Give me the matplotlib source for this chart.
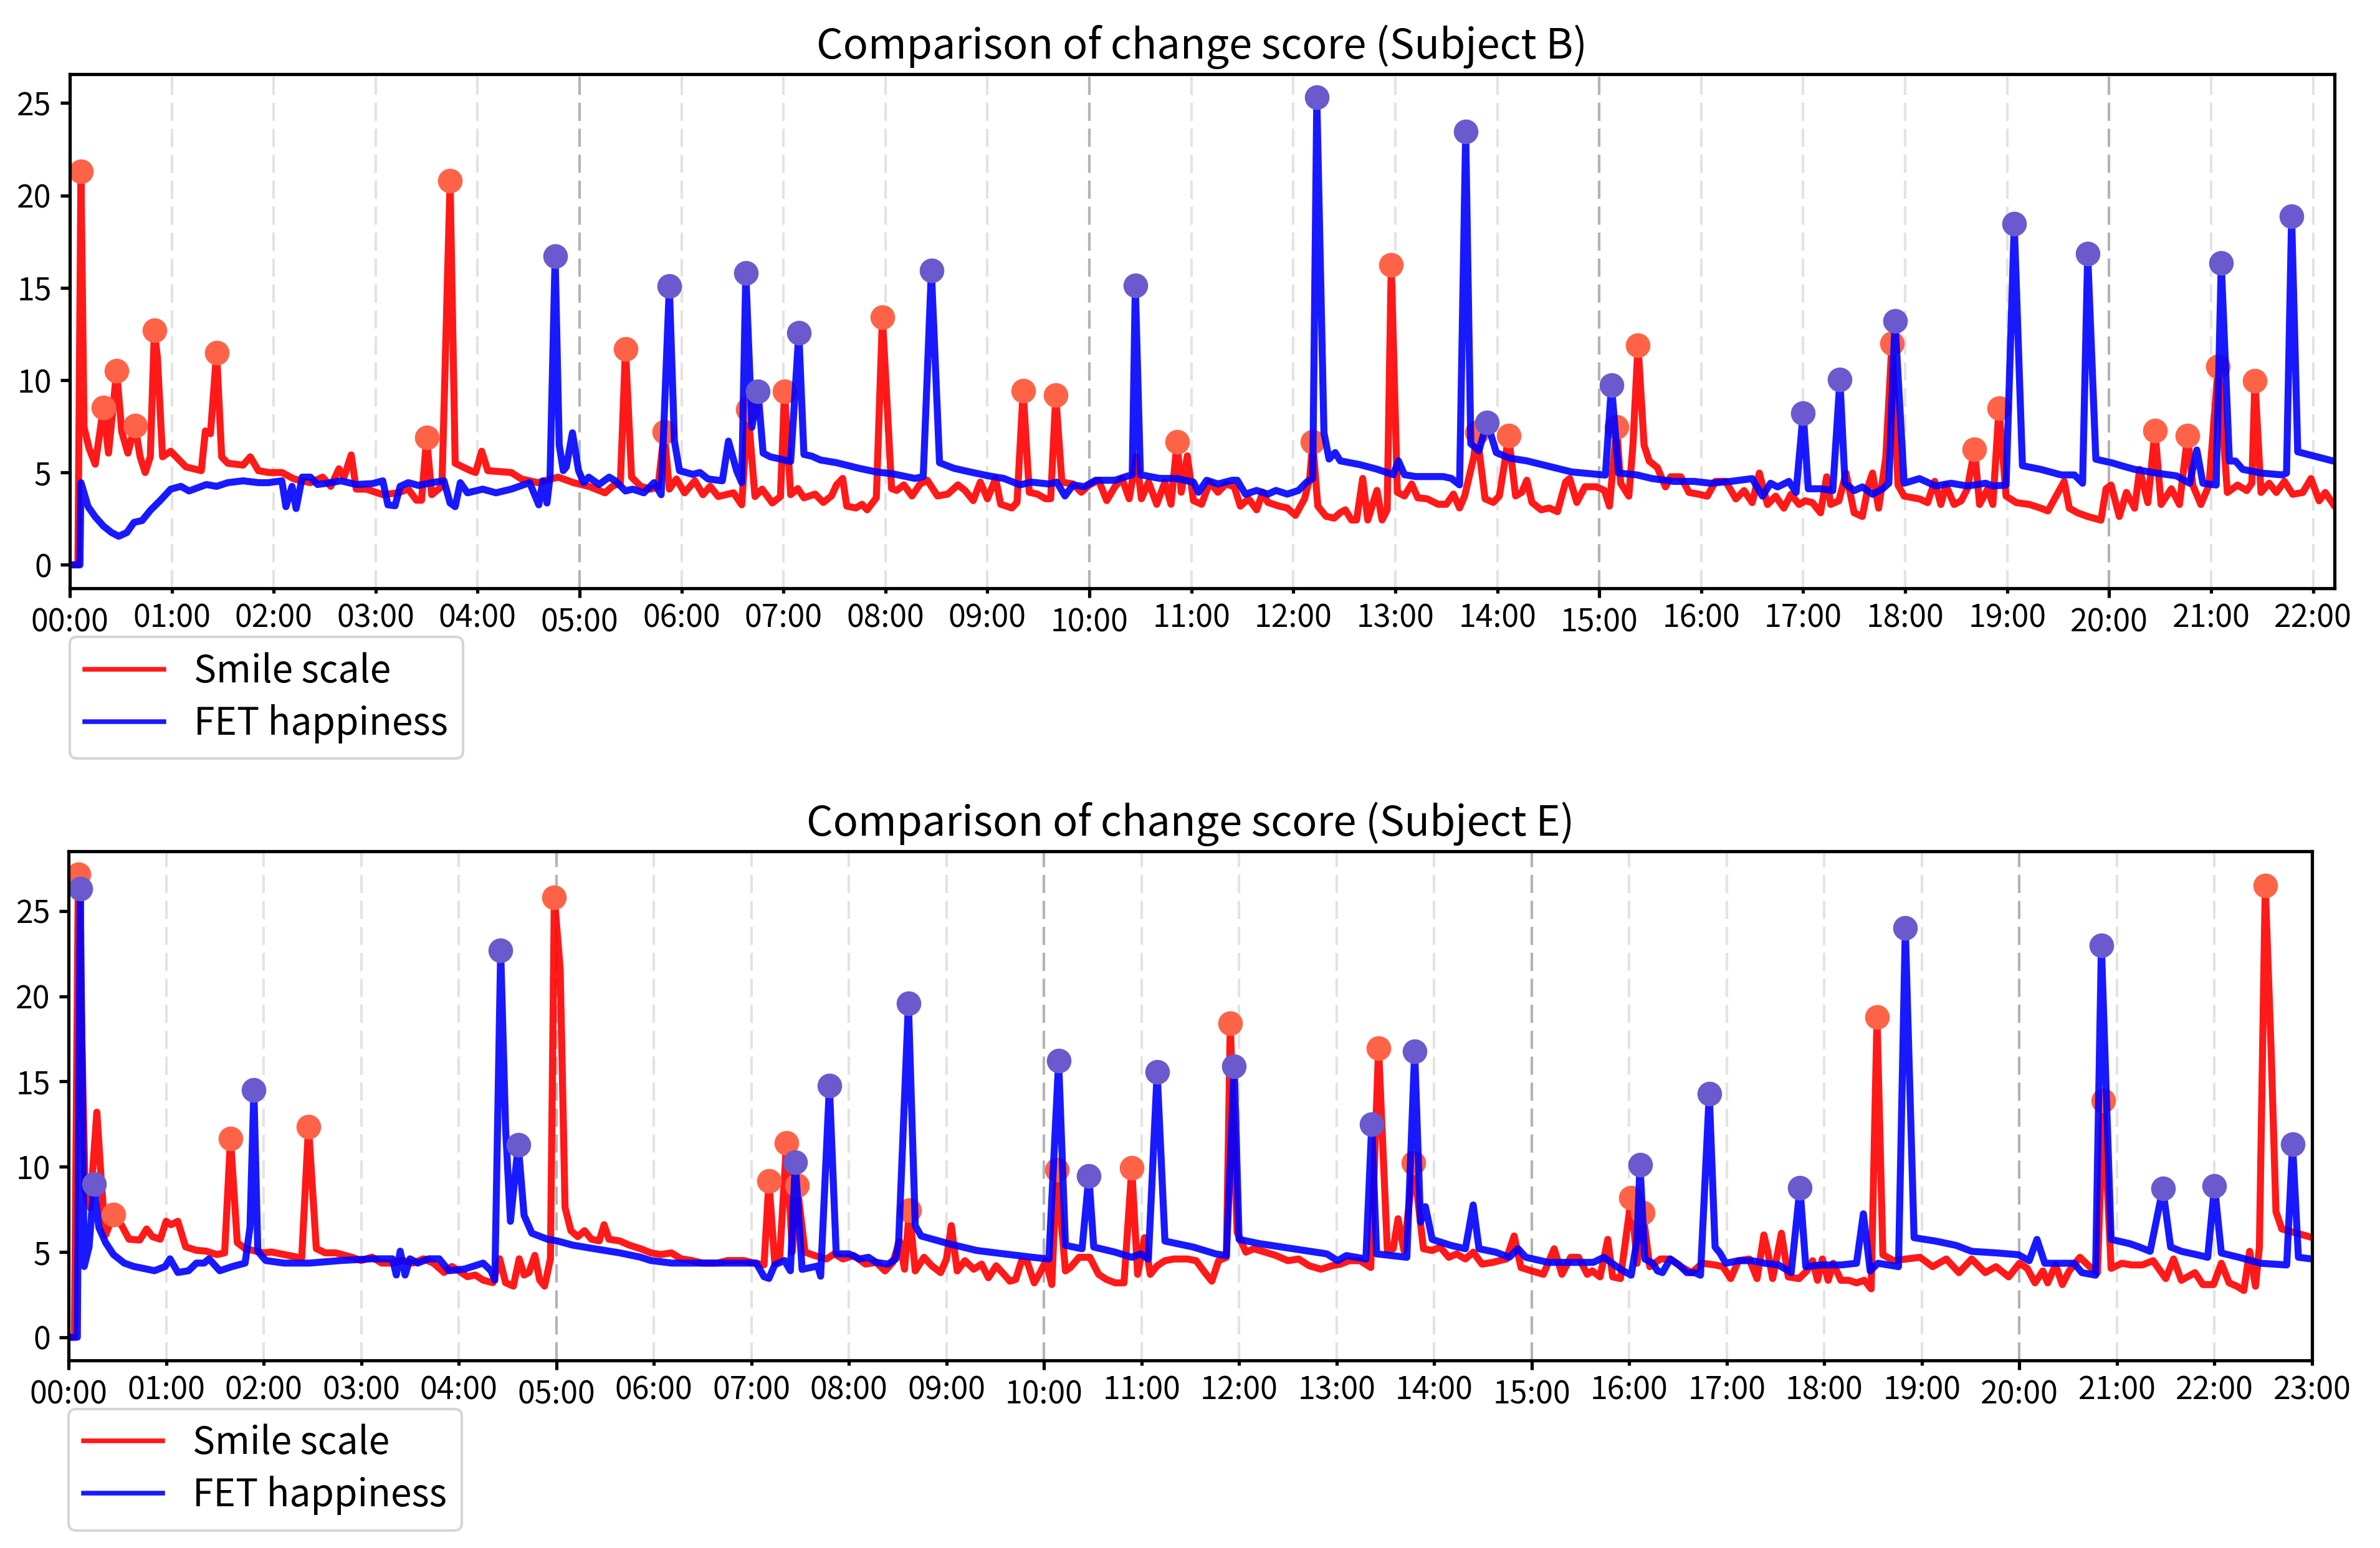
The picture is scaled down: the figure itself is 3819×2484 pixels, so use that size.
import matplotlib
matplotlib.use('Agg')
import matplotlib.pyplot as plt
from matplotlib.ticker import MultipleLocator, FuncFormatter

plt.rcParams['font.family'] = ['Noto Sans CJK JP', 'DejaVu Sans']

# (hour, score)
b_smile = [(0, 0), (0.08, 0), (0.11, 21.3), (0.14, 7.45), (0.19, 6.3), (0.25, 5.45), (0.33, 8.5), (0.38, 6.05),
           (0.46, 10.5), (0.51, 7.2), (0.57, 6.05), (0.64, 7.55), (0.69, 5.85), (0.74, 5.0), (0.79, 5.85),
           (0.83, 12.7), (0.86, 11.2), (0.91, 5.85), (0.99, 6.15), (1.14, 5.3), (1.29, 5.1), (1.33, 7.25),
           (1.38, 7.1), (1.44, 11.5), (1.49, 5.85), (1.55, 5.5), (1.70, 5.4), (1.77, 5.85), (1.85, 5.1),
           (1.95, 5.0), (2.08, 5.0), (2.20, 4.65), (2.36, 4.45), (2.48, 4.75), (2.56, 4.25), (2.64, 5.2),
           (2.69, 4.75), (2.76, 5.95), (2.81, 4.1), (2.91, 4.1), (3.07, 3.8), (3.22, 3.9), (3.32, 4.1),
           (3.40, 3.5), (3.45, 3.5), (3.50, 6.9), (3.55, 3.8), (3.65, 4.25), (3.73, 20.8), (3.78, 5.5),
           (3.93, 5.1), (3.98, 5.0), (4.04, 6.15), (4.10, 5.1), (4.33, 5.0), (4.43, 4.65), (4.59, 4.45),
           (4.79, 4.75), (4.94, 4.45), (5.09, 4.25), (5.25, 3.9), (5.32, 4.25), (5.40, 4.45), (5.45, 11.7),
           (5.51, 4.75), (5.60, 4.25), (5.70, 4.1), (5.77, 4.25), (5.83, 7.2), (5.88, 4.1), (5.95, 4.65),
           (6.03, 3.9), (6.13, 4.55), (6.21, 3.8), (6.28, 4.25), (6.36, 3.7), (6.51, 3.9), (6.59, 3.25),
           (6.65, 8.4), (6.72, 3.7), (6.79, 4.1), (6.89, 3.35), (6.97, 3.7), (7.01, 9.4), (7.07, 3.8),
           (7.14, 4.13), (7.20, 3.63), (7.31, 3.83), (7.39, 3.38), (7.47, 3.73), (7.52, 4.33), (7.58, 4.68),
           (7.62, 3.18), (7.71, 3.08), (7.77, 3.28), (7.82, 2.98), (7.91, 3.63), (7.97, 13.42), (8.06, 4.13),
           (8.11, 4.03), (8.18, 4.33), (8.26, 3.73), (8.34, 4.38), (8.41, 4.58), (8.51, 3.73), (8.61, 3.83),
           (8.71, 4.33), (8.78, 4.03), (8.86, 3.48), (8.93, 4.48), (9.00, 3.58), (9.08, 4.68), (9.13, 3.28),
           (9.24, 3.08), (9.29, 3.38), (9.35, 9.43), (9.41, 3.93), (9.49, 3.83), (9.57, 3.58), (9.62, 3.58),
           (9.67, 9.18), (9.73, 4.48), (9.84, 4.38), (9.92, 3.93), (10.00, 4.33), (10.09, 4.58), (10.17, 3.48),
           (10.25, 4.23), (10.32, 4.68), (10.39, 3.58), (10.46, 5.85), (10.51, 3.58), (10.58, 4.48),
           (10.66, 3.28), (10.74, 4.48), (10.80, 3.28), (10.86, 6.66), (10.90, 3.93), (10.96, 5.9),
           (11.02, 3.48), (11.10, 3.28), (11.18, 4.48), (11.26, 3.93), (11.34, 4.38), (11.42, 4.23),
           (11.48, 3.18), (11.56, 3.58), (11.64, 2.98), (11.70, 3.93), (11.75, 3.38), (11.86, 3.18),
           (11.94, 3.08), (12.02, 2.68), (12.11, 3.58), (12.16, 4.68), (12.19, 6.66), (12.24, 3.18),
           (12.32, 2.63), (12.40, 2.53), (12.46, 2.83), (12.51, 2.98), (12.57, 2.43), (12.62, 2.43),
           (12.68, 4.68), (12.73, 2.43), (12.82, 4.03), (12.87, 2.43), (12.92, 2.98), (12.96, 16.25),
           (13.02, 3.93), (13.09, 3.73), (13.16, 4.38), (13.22, 3.63), (13.31, 3.58), (13.42, 3.28),
           (13.50, 3.28), (13.57, 3.83), (13.63, 3.08), (13.68, 3.73), (13.77, 5.85), (13.80, 7.16),
           (13.88, 3.58), (13.96, 3.38), (14.02, 3.73), (14.07, 5.45), (14.11, 7.0), (14.18, 3.73),
           (14.24, 3.93), (14.29, 4.58), (14.34, 3.38), (14.43, 2.98), (14.51, 3.08), (14.59, 2.88),
           (14.67, 4.48), (14.71, 4.68), (14.78, 3.38), (14.86, 4.23), (14.97, 4.23), (15.05, 4.03),
           (15.10, 3.18), (15.17, 7.46), (15.21, 4.42), (15.29, 3.72), (15.33, 6.47), (15.38, 11.9),
           (15.44, 6.47), (15.49, 5.62), (15.57, 5.27), (15.65, 4.22), (15.70, 4.77), (15.80, 4.77),
           (15.88, 3.92), (15.98, 3.82), (16.06, 3.72), (16.14, 4.52), (16.24, 4.52), (16.34, 3.57),
           (16.42, 4.02), (16.50, 3.37), (16.57, 4.97), (16.65, 3.27), (16.73, 3.72), (16.81, 3.07),
           (16.88, 3.82), (16.96, 3.27), (17.02, 3.47), (17.09, 3.37), (17.17, 2.82), (17.23, 4.77),
           (17.27, 3.27), (17.35, 3.47), (17.42, 4.97), (17.50, 2.82), (17.58, 2.62), (17.64, 4.32),
           (17.68, 4.97), (17.74, 3.07), (17.81, 5.82), (17.87, 12.0), (17.93, 4.32), (17.99, 3.72),
           (18.14, 3.57), (18.22, 3.37), (18.29, 4.52), (18.35, 3.27), (18.40, 4.32), (18.48, 3.27),
           (18.55, 3.47), (18.61, 4.12), (18.68, 6.25), (18.73, 3.27), (18.81, 4.12), (18.86, 3.27),
           (18.92, 8.47), (18.99, 3.72), (19.09, 3.37), (19.22, 3.27), (19.33, 3.07), (19.40, 2.92),
           (19.48, 3.72), (19.56, 4.52), (19.61, 3.07), (19.69, 2.82), (19.79, 2.62), (19.92, 2.42),
           (19.97, 4.12), (20.02, 4.32), (20.10, 2.62), (20.17, 3.92), (20.25, 3.07), (20.30, 5.17),
           (20.38, 3.37), (20.45, 7.26), (20.51, 3.27), (20.61, 4.12), (20.69, 3.27), (20.77, 7.0),
           (20.82, 4.32), (20.90, 3.27), (20.98, 4.32), (21.07, 10.74), (21.16, 3.92), (21.26, 4.32),
           (21.35, 4.02), (21.40, 4.42), (21.43, 9.98), (21.49, 3.92), (21.57, 4.42), (21.64, 3.92),
           (21.72, 4.52), (21.80, 3.82), (21.90, 3.92), (21.98, 4.67), (22.06, 3.47), (22.12, 3.92),
           (22.20, 3.27)]

b_fet = [(0, 0), (0.10, 0), (0.11, 4.45), (0.18, 3.15), (0.25, 2.6), (0.33, 2.1), (0.41, 1.75), (0.48, 1.55),
         (0.56, 1.75), (0.63, 2.3), (0.71, 2.4), (0.79, 2.95), (0.89, 3.5), (0.99, 4.1), (1.09, 4.25),
         (1.17, 4.0), (1.34, 4.35), (1.44, 4.25), (1.55, 4.45), (1.70, 4.55), (1.85, 4.45), (1.95, 4.45),
         (2.08, 4.55), (2.12, 3.15), (2.18, 4.25), (2.22, 3.05), (2.28, 4.75), (2.36, 4.75), (2.43, 4.35),
         (2.56, 4.45), (2.66, 4.55), (2.81, 4.35), (2.97, 4.4), (3.07, 4.55), (3.12, 3.25), (3.19, 3.2),
         (3.24, 4.25), (3.32, 4.45), (3.42, 4.3), (3.55, 4.45), (3.67, 4.55), (3.73, 3.35), (3.78, 3.15),
         (3.83, 4.45), (3.90, 3.9), (4.05, 4.1), (4.18, 3.9), (4.33, 4.1), (4.51, 4.45), (4.60, 3.25),
         (4.64, 4.55), (4.68, 3.35), (4.71, 4.75), (4.76, 16.7), (4.80, 6.5), (4.84, 5.1), (4.87, 5.3),
         (4.93, 7.15), (4.99, 5.1), (5.04, 4.45), (5.09, 4.75), (5.19, 4.35), (5.29, 4.75), (5.35, 4.55),
         (5.45, 4.0), (5.52, 4.1), (5.63, 3.9), (5.73, 4.45), (5.80, 3.8), (5.88, 15.1), (5.93, 6.7),
         (5.98, 5.1), (6.11, 4.9), (6.18, 5.0), (6.26, 4.65), (6.40, 4.55), (6.46, 6.7), (6.54, 5.1),
         (6.59, 4.45), (6.63, 15.8), (6.69, 7.45), (6.75, 9.4), (6.80, 6.05), (6.87, 5.85), (7.07, 5.6),
         (7.15, 12.55), (7.20, 5.98), (7.28, 5.88), (7.36, 5.68), (7.52, 5.53), (7.74, 5.23), (7.91, 5.03),
         (8.07, 4.93), (8.29, 4.68), (8.37, 4.78), (8.45, 15.94), (8.53, 5.53), (8.67, 5.23), (8.83, 5.03),
         (9.00, 4.83), (9.16, 4.68), (9.32, 4.33), (9.43, 4.48), (9.60, 4.38), (9.68, 4.48), (9.76, 3.73),
         (9.84, 4.33), (9.95, 4.23), (10.06, 4.58), (10.25, 4.58), (10.36, 4.78), (10.42, 4.88),
         (10.45, 15.14), (10.50, 4.88), (10.69, 4.68), (10.85, 4.68), (11.02, 4.48), (11.07, 3.93),
         (11.15, 4.58), (11.26, 4.38), (11.40, 4.58), (11.45, 4.58), (11.53, 3.83), (11.64, 4.03),
         (11.75, 3.83), (11.83, 4.03), (11.94, 3.83), (12.05, 4.03), (12.13, 4.48), (12.19, 4.68),
         (12.23, 25.3), (12.30, 7.16), (12.35, 5.73), (12.41, 6.08), (12.46, 5.63), (12.65, 5.43),
         (12.82, 5.18), (12.98, 4.88), (13.03, 5.63), (13.09, 4.88), (13.20, 4.78), (13.36, 4.78),
         (13.47, 4.78), (13.55, 4.68), (13.63, 4.33), (13.69, 23.46), (13.74, 6.56), (13.82, 6.18),
         (13.90, 7.72), (13.99, 6.08), (14.12, 5.78), (14.29, 5.63), (14.51, 5.33), (14.73, 5.03),
         (15.02, 4.88), (15.06, 4.86), (15.12, 9.73), (15.19, 4.97), (15.37, 4.87), (15.52, 4.67),
         (15.73, 4.52), (15.93, 4.52), (16.09, 4.42), (16.29, 4.52), (16.50, 4.67), (16.60, 3.72),
         (16.68, 4.42), (16.75, 4.22), (16.86, 4.52), (16.93, 3.92), (17.00, 8.22), (17.05, 4.12),
         (17.17, 4.12), (17.29, 4.02), (17.36, 10.03), (17.41, 4.42), (17.50, 4.02), (17.58, 4.22),
         (17.68, 3.82), (17.78, 4.12), (17.84, 4.42), (17.90, 13.21), (17.99, 4.42), (18.14, 4.67),
         (18.30, 4.27), (18.45, 4.42), (18.61, 4.27), (18.79, 4.42), (18.86, 4.27), (18.99, 4.32),
         (19.07, 18.46), (19.15, 5.37), (19.33, 5.17), (19.53, 4.87), (19.66, 4.87), (19.74, 4.42),
         (19.79, 16.85), (19.87, 5.72), (20.03, 5.52), (20.12, 5.37), (20.25, 5.17), (20.46, 4.97),
         (20.66, 4.82), (20.79, 4.42), (20.86, 6.22), (20.92, 4.42), (21.05, 4.32), (21.10, 16.34),
         (21.18, 5.62), (21.24, 5.62), (21.31, 5.17), (21.49, 4.97), (21.70, 4.87), (21.74, 4.97),
         (21.79, 18.86), (21.85, 6.12), (22.20, 5.62)]

b_smile_peaks = [(0.11, 21.3), (0.33, 8.5), (0.46, 10.5), (0.64, 7.55), (0.83, 12.7), (1.44, 11.5),
                 (3.50, 6.9), (3.73, 20.8), (5.45, 11.7), (5.83, 7.2), (6.65, 8.4), (7.01, 9.4),
                 (7.97, 13.42), (9.35, 9.43), (9.67, 9.18), (10.86, 6.66), (12.19, 6.66), (12.96, 16.25),
                 (13.80, 7.16), (14.11, 7.0), (15.17, 7.46), (15.38, 11.9), (17.87, 12.0), (18.68, 6.25),
                 (18.92, 8.47), (20.45, 7.26), (20.77, 7.0), (21.07, 10.74), (21.43, 9.98)]

b_fet_peaks = [(4.76, 16.7), (5.88, 15.1), (6.63, 15.8), (6.75, 9.4), (7.15, 12.55), (8.45, 15.94),
               (10.45, 15.14), (12.23, 25.3), (13.69, 23.46), (13.90, 7.72), (15.12, 9.73), (17.00, 8.22),
               (17.36, 10.03), (17.90, 13.21), (19.07, 18.46), (19.79, 16.85), (21.10, 16.34), (21.79, 18.86)]

e_smile = [(0, 0), (0.06, 0), (0.10, 27.15), (0.17, 8.55), (0.22, 7.6), (0.29, 13.2), (0.34, 8.8), (0.38, 6.0),
           (0.46, 7.2), (0.54, 6.6), (0.62, 5.75), (0.73, 5.7), (0.80, 6.35), (0.86, 5.9), (0.94, 5.75),
           (1.00, 6.8), (1.05, 6.6), (1.12, 6.8), (1.20, 5.3), (1.31, 5.1), (1.41, 5.05), (1.52, 4.85),
           (1.60, 4.95), (1.66, 11.65), (1.73, 5.55), (1.81, 5.2), (1.92, 5.05), (2.00, 4.95), (2.08, 5.0),
           (2.21, 4.85), (2.39, 4.65), (2.46, 12.35), (2.54, 5.2), (2.63, 4.95), (2.74, 4.95), (2.90, 4.7),
           (3.00, 4.5), (3.11, 4.7), (3.21, 4.35), (3.32, 4.35), (3.43, 4.5), (3.53, 4.35), (3.64, 4.6),
           (3.74, 4.35), (3.85, 3.8), (3.93, 4.15), (4.00, 3.9), (4.09, 3.55), (4.17, 3.65), (4.25, 3.35),
           (4.35, 3.2), (4.42, 4.6), (4.48, 3.2), (4.56, 3.0), (4.62, 4.6), (4.67, 3.65), (4.72, 3.8),
           (4.78, 4.8), (4.83, 3.35), (4.88, 3.0), (4.94, 4.6), (4.98, 25.8), (5.04, 21.6), (5.09, 7.6),
           (5.15, 6.25), (5.22, 5.9), (5.29, 6.25), (5.36, 5.75), (5.44, 5.65), (5.49, 6.6), (5.54, 5.75),
           (5.65, 5.65), (5.75, 5.4), (5.86, 5.2), (5.97, 4.95), (6.07, 4.85), (6.18, 4.95), (6.28, 4.6),
           (6.39, 4.5), (6.50, 4.35), (6.65, 4.35), (6.76, 4.5), (6.92, 4.5), (7.03, 4.35), (7.13, 4.25),
           (7.18, 9.15), (7.24, 4.35), (7.29, 4.6), (7.36, 11.4), (7.42, 5.0), (7.47, 8.9), (7.55, 4.99),
           (7.65, 4.79), (7.77, 4.59), (7.85, 4.89), (7.94, 4.59), (8.05, 4.79), (8.17, 4.29), (8.28, 4.39),
           (8.37, 3.89), (8.45, 4.39), (8.52, 5.64), (8.57, 3.99), (8.62, 7.46), (8.68, 3.89), (8.77, 4.69),
           (8.85, 4.19), (8.94, 3.79), (9.00, 4.59), (9.05, 6.55), (9.11, 3.89), (9.19, 4.49), (9.28, 3.99),
           (9.36, 4.29), (9.43, 3.49), (9.51, 4.19), (9.59, 3.69), (9.65, 3.29), (9.71, 3.39), (9.77, 4.49),
           (9.83, 4.39), (9.90, 3.19), (9.96, 3.79), (10.02, 4.49), (10.08, 3.09), (10.13, 9.82),
           (10.22, 3.89), (10.27, 4.09), (10.36, 4.69), (10.47, 4.69), (10.56, 3.69), (10.64, 3.39),
           (10.73, 3.19), (10.82, 3.19), (10.90, 9.92), (10.96, 3.69), (11.03, 5.84), (11.09, 3.69),
           (11.16, 4.19), (11.24, 4.49), (11.33, 4.59), (11.47, 4.59), (11.56, 4.49), (11.65, 3.79),
           (11.72, 3.29), (11.79, 4.49), (11.87, 4.69), (11.91, 18.42), (11.98, 6.15), (12.07, 4.99),
           (12.15, 5.19), (12.27, 4.99), (12.38, 4.79), (12.50, 4.49), (12.61, 4.59), (12.72, 4.19),
           (12.84, 3.99), (12.95, 4.19), (13.04, 4.29), (13.13, 4.49), (13.24, 4.49), (13.35, 4.09),
           (13.43, 16.97), (13.52, 5.09), (13.58, 5.19), (13.63, 6.95), (13.69, 5.09), (13.79, 10.22),
           (13.89, 5.19), (13.98, 5.09), (14.06, 5.29), (14.15, 4.69), (14.23, 4.89), (14.32, 4.59),
           (14.40, 4.99), (14.49, 4.29), (14.60, 4.39), (14.74, 4.59), (14.82, 5.94), (14.89, 4.09),
           (15.00, 3.89), (15.12, 3.69), (15.23, 5.19), (15.31, 3.69), (15.40, 4.69), (15.48, 4.69),
           (15.57, 3.69), (15.62, 3.89), (15.70, 3.54), (15.78, 5.74), (15.83, 3.54), (15.91, 3.44),
           (16.02, 8.17), (16.08, 4.34), (16.14, 7.31), (16.21, 4.14), (16.32, 4.59), (16.42, 4.59),
           (16.53, 4.14), (16.64, 3.79), (16.75, 4.34), (16.88, 4.24), (16.96, 4.14), (17.04, 3.44),
           (17.12, 4.49), (17.23, 4.59), (17.31, 3.44), (17.38, 6.0), (17.42, 5.04), (17.47, 3.44),
           (17.56, 6.1), (17.63, 3.54), (17.74, 3.44), (17.82, 3.89), (17.88, 4.49), (17.93, 3.34),
           (17.98, 4.59), (18.04, 3.34), (18.09, 4.34), (18.17, 3.34), (18.25, 3.34), (18.33, 3.19),
           (18.41, 3.34), (18.48, 2.84), (18.54, 18.78), (18.60, 4.84), (18.71, 4.49), (18.84, 4.59),
           (18.98, 4.69), (19.11, 4.14), (19.25, 4.59), (19.38, 3.79), (19.51, 4.59), (19.65, 3.79),
           (19.76, 4.14), (19.89, 3.54), (20.00, 4.34), (20.08, 4.04), (20.16, 3.19), (20.24, 3.89),
           (20.29, 3.19), (20.37, 4.24), (20.44, 3.09), (20.51, 3.89), (20.62, 4.69), (20.72, 4.14),
           (20.80, 3.79), (20.86, 13.9), (20.94, 4.04), (21.05, 4.34), (21.15, 4.24), (21.26, 4.24),
           (21.37, 4.49), (21.50, 3.44), (21.58, 4.59), (21.66, 3.34), (21.80, 3.79), (21.88, 3.09),
           (21.99, 3.09), (22.07, 4.34), (22.15, 3.19), (22.23, 2.99), (22.30, 2.74), (22.36, 5.04),
           (22.42, 2.99), (22.46, 5.29), (22.52, 26.5), (22.58, 16.9), (22.63, 7.36), (22.69, 6.35),
           (23.00, 5.85)]

e_fet = [(0, 0), (0.09, 0), (0.12, 26.3), (0.16, 4.15), (0.21, 5.3), (0.26, 9.0), (0.31, 6.45), (0.38, 5.55),
         (0.46, 4.85), (0.57, 4.35), (0.67, 4.15), (0.80, 4.0), (0.88, 3.9), (0.99, 4.15), (1.04, 4.6),
         (1.12, 3.8), (1.23, 3.9), (1.31, 4.35), (1.39, 4.35), (1.44, 4.6), (1.55, 3.9), (1.68, 4.15),
         (1.81, 4.35), (1.86, 6.45), (1.90, 14.5), (1.94, 5.05), (2.02, 4.5), (2.21, 4.35), (2.47, 4.35),
         (2.79, 4.5), (3.11, 4.6), (3.32, 4.6), (3.36, 3.65), (3.40, 5.05), (3.45, 3.65), (3.50, 4.6),
         (3.58, 4.35), (3.69, 4.6), (3.80, 4.6), (3.90, 3.9), (4.06, 4.0), (4.25, 4.35), (4.33, 3.9),
         (4.37, 3.35), (4.43, 22.7), (4.48, 12.3), (4.53, 6.8), (4.61, 11.3), (4.67, 7.15), (4.75, 6.1),
         (4.91, 5.75), (5.01, 5.65), (5.17, 5.4), (5.38, 5.2), (5.65, 4.95), (5.86, 4.7), (5.97, 4.5),
         (6.18, 4.35), (6.44, 4.35), (6.71, 4.35), (7.05, 4.35), (7.13, 3.55), (7.18, 3.45), (7.24, 4.25),
         (7.34, 4.5), (7.40, 3.9), (7.45, 10.25), (7.52, 3.98), (7.68, 4.18), (7.71, 3.58), (7.80, 14.75),
         (7.87, 4.89), (8.00, 4.89), (8.11, 4.59), (8.20, 4.69), (8.28, 4.39), (8.40, 4.29), (8.48, 4.59),
         (8.51, 5.64), (8.61, 19.58), (8.68, 6.55), (8.74, 5.94), (9.02, 5.49), (9.31, 5.09), (9.59, 4.89),
         (9.88, 4.69), (10.05, 4.59), (10.15, 16.21), (10.22, 5.39), (10.39, 5.19), (10.46, 9.47),
         (10.51, 5.29), (10.73, 4.99), (10.90, 4.69), (10.99, 4.89), (11.07, 4.59), (11.16, 15.56),
         (11.24, 5.64), (11.53, 5.29), (11.76, 4.89), (11.87, 4.79), (11.95, 15.91), (12.00, 5.74),
         (12.21, 5.49), (12.44, 5.29), (12.67, 5.09), (12.90, 4.89), (13.01, 4.49), (13.10, 4.79),
         (13.30, 4.59), (13.36, 12.49), (13.41, 4.89), (13.72, 4.69), (13.80, 16.76), (13.86, 6.75),
         (13.91, 7.66), (13.98, 5.74), (14.17, 5.39), (14.32, 5.19), (14.40, 7.76), (14.46, 5.19),
         (14.63, 4.99), (14.77, 4.69), (14.86, 5.19), (14.94, 4.69), (15.17, 4.39), (15.63, 4.39),
         (15.74, 4.69), (15.86, 4.19), (15.94, 3.89), (16.02, 3.64), (16.08, 5.74), (16.11, 10.13),
         (16.16, 4.59), (16.24, 4.34), (16.29, 3.89), (16.34, 3.79), (16.42, 4.59), (16.51, 4.24),
         (16.59, 3.79), (16.67, 3.79), (16.73, 3.64), (16.82, 14.3), (16.88, 5.29), (16.93, 4.94),
         (16.99, 4.34), (17.12, 4.49), (17.26, 4.49), (17.39, 4.34), (17.53, 4.24), (17.66, 3.79),
         (17.75, 8.77), (17.81, 4.14), (17.96, 4.24), (18.17, 4.24), (18.33, 4.34), (18.40, 7.24),
         (18.47, 3.89), (18.55, 4.34), (18.76, 4.14), (18.83, 24.01), (18.92, 5.84), (19.14, 5.64),
         (19.35, 5.39), (19.51, 5.04), (19.78, 4.94), (19.99, 4.84), (20.10, 4.49), (20.18, 5.74),
         (20.26, 4.34), (20.43, 4.34), (20.56, 4.34), (20.64, 3.79), (20.78, 3.64), (20.84, 23.0),
         (20.94, 5.74), (21.13, 5.49), (21.23, 5.29), (21.34, 5.04), (21.47, 8.72), (21.55, 5.29),
         (21.66, 5.04), (21.82, 4.84), (21.93, 4.69), (22.00, 8.87), (22.07, 4.94), (22.25, 4.69),
         (22.47, 4.34), (22.74, 4.24), (22.80, 11.33), (22.86, 4.69), (23.00, 4.59)]

e_smile_peaks = [(0.10, 27.15), (0.46, 7.2), (1.66, 11.65), (2.46, 12.35), (4.98, 25.8), (7.18, 9.15),
                 (7.36, 11.4), (7.47, 8.9), (8.62, 7.46), (10.13, 9.82), (10.90, 9.92), (11.91, 18.42),
                 (13.43, 16.97), (13.79, 10.22), (16.02, 8.17), (16.14, 7.31), (18.54, 18.78), (20.86, 13.9),
                 (22.52, 26.5)]

e_fet_peaks = [(0.12, 26.3), (0.26, 9.0), (1.90, 14.5), (4.43, 22.7), (4.61, 11.3), (7.45, 10.25),
               (7.80, 14.75), (8.61, 19.58), (10.15, 16.21), (10.46, 9.47), (11.16, 15.56), (11.95, 15.91),
               (13.36, 12.49), (13.80, 16.76), (16.11, 10.13), (16.82, 14.3), (17.75, 8.77), (18.83, 24.01),
               (20.84, 23.0), (21.47, 8.72), (22.00, 8.87), (22.80, 11.33)]

panels = [
    ('Comparison of change score (Subject B)', b_smile, b_fet, b_smile_peaks, b_fet_peaks, 22.21,
     [0.0293, 0.620, 0.9513, 0.3321]),
    ('Comparison of change score (Subject E)', e_smile, e_fet, e_smile_peaks, e_fet_peaks, 23.0,
     [0.0288, 0.1212, 0.9424, 0.3289]),
]

hh = FuncFormatter(lambda x, pos: '%02d:00' % int(round(x)))

fig = plt.figure(figsize=(3820 / 300, 2484 / 300), dpi=300)
for title, smile, fet, smile_pk, fet_pk, xmax, rect in panels:
    ax = fig.add_axes(rect)
    t, v = zip(*smile)
    ax.plot(t, v, color='red', alpha=0.9, lw=2.7, label='Smile scale')
    t, v = zip(*smile_pk)
    ax.plot(t, v, 'o', color='tomato', ms=9.5, mew=0)
    t, v = zip(*fet)
    ax.plot(t, v, color='blue', alpha=0.9, lw=2.7, label='FET happiness')
    t, v = zip(*fet_pk)
    ax.plot(t, v, 'o', color='slateblue', ms=9.5, mew=0)

    ax.set_xlim(0, xmax)
    ax.xaxis.set_major_locator(MultipleLocator(5))
    ax.xaxis.set_minor_locator(MultipleLocator(1))
    ax.xaxis.set_major_formatter(hh)
    ax.xaxis.set_minor_formatter(hh)
    ax.yaxis.set_major_locator(MultipleLocator(5))
    ax.tick_params(which='both', labelsize=12, width=1.25)
    ax.grid(True, which='major', axis='x', color='#b3b3b3', lw=1, ls=(0, (7, 3)))
    ax.grid(True, which='minor', axis='x', color='#e3e3e3', lw=1, ls=(0, (7, 3)))
    for s in ax.spines.values():
        s.set_linewidth(1.25)
    ax.set_title(title, fontsize=16)
    leg = ax.legend(loc='upper left', bbox_to_anchor=(0, -0.095), borderaxespad=0, fontsize=14.5,
                    handlelength=2.1, labelspacing=0.35)
    for h in leg.get_lines():
        h.set_linewidth(1.8)

fig.savefig('out.png', dpi=300)
